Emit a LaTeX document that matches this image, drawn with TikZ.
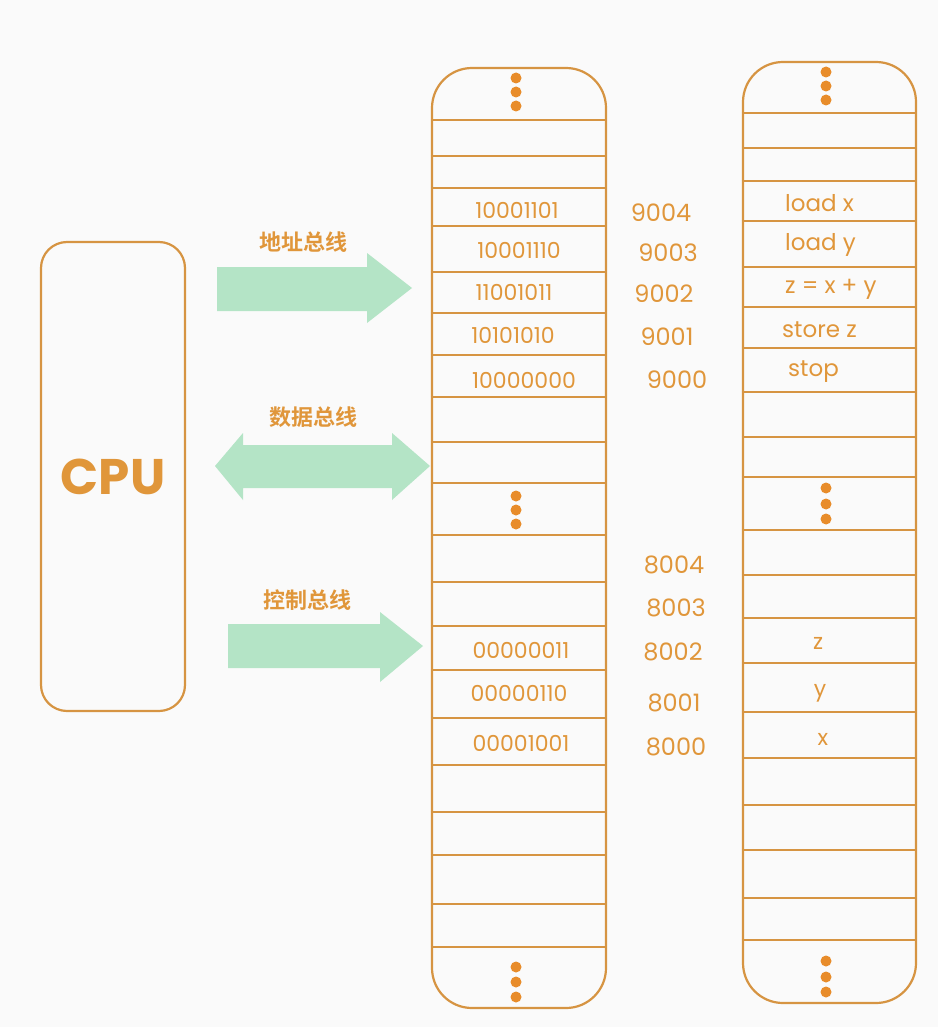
\documentclass[tikz,border=0pt]{standalone}
\usepackage{fontspec}
\setmainfont{Poppins}
\newfontfamily\cjk[BoldFont={Noto Sans CJK SC Bold}]{Noto Sans CJK SC}
\usetikzlibrary{positioning}
\definecolor{lineorange}{RGB}{214,148,66}
\definecolor{txtorange}{RGB}{224,150,58}
\definecolor{dotorange}{RGB}{232,140,42}
\definecolor{busgreen}{RGB}{180,228,198}
\definecolor{paper}{RGB}{250,250,250}

\begin{document}
\begin{tikzpicture}[x=1pt,y=-1pt,
  col/.style={draw=lineorange,line width=2.2pt,rounded corners=40pt,inner sep=0pt},
  sep/.style={draw=lineorange,line width=2pt},
  cell/.style={font=\fontsize{22}{22}\selectfont,text=txtorange,inner sep=0pt},
  addr/.style={font=\fontsize{24}{24}\selectfont,text=txtorange,inner sep=0pt},
  instr/.style={font=\fontsize{23}{23}\selectfont,text=txtorange,inner sep=0pt,anchor=west},
  lbl/.style={font=\cjk\bfseries\fontsize{22}{22}\selectfont,text=txtorange,inner sep=0pt},
  bus/.style={fill=busgreen},
  dot/.style={fill=dotorange}]
  \useasboundingbox (0,0) rectangle (938,1027);
  \fill[paper] (0,0) rectangle (938,1027);

  % CPU
  \node[col,rounded corners=26pt,minimum width=144pt,minimum height=469pt] (cpu) at (113,476.5) {};
  \node[font=\bfseries\fontsize{50}{50}\selectfont,text=txtorange] (cputxt) at (cpu.center) {CPU};

  % memory column
  \node[col,minimum width=174pt,minimum height=940pt] (mem) at (519,538) {};
  \foreach \y in {120,156,188,226,272,313,355,397,442,483,535,582,626,670,718,765,812,855,904,947}
    \draw[sep] (mem.west |- 0,\y) -- (mem.east |- 0,\y);
  \foreach \y in {78,92,106,496,510,524,967,982,997}
    \fill[dot] (516,\y) circle (5.5pt);

  % program column
  \node[col,minimum width=173pt,minimum height=941pt] (prog) at (829.5,532.5) {};
  \foreach \y in {113,148,181,221,267,307,348,392,437,477,530,575,618,663,712,758,805,850,898,940}
    \draw[sep] (prog.west |- 0,\y) -- (prog.east |- 0,\y);
  \foreach \y in {72,86,100,488,504,519,961,977,992}
    \fill[dot] (826,\y) circle (5.5pt);

  % memory contents
  \foreach \x/\y/\v in {517/210/10001101,519/250/10001110,514/292/11001011,513/335/10101010,
    524/380/10000000,521/650/00000011,519/693/00000110,521/743/00001001}
    \node[cell] (c\v) at (\x,\y) {\v};

  % addresses
  \foreach \x/\y/\a in {661/213/9004,668/253/9003,664/294/9002,667/337/9001,677/380/9000,
    674/565/8004,676/608/8003,673/652/8002,674/703/8001,676/747/8000}
    \node[addr] (a\a) at (\x,\y) {\a};

  % instructions and data
  \node[instr] (i1) at (785,203) {load x};
  \node[instr] (i2) at (785,245) {load y};
  \node[instr] (i3) at (785,289) {z = x + y};
  \node[instr] (i4) at (782,330) {store z};
  \node[instr] (i5) at (788,372) {stop};
  \node[cell] (vz) at (818,643) {z};
  \node[cell] (vy) at (820,693) {y};
  \node[cell] (vx) at (823,739) {x};

  % buses
  \fill[bus] (217,267) -- (367,267) -- (367,253) -- (412,288) -- (367,323) -- (367,311) -- (217,311) -- cycle;
  \node[lbl] (abus) at (303,242) {地址总线};
  \fill[bus] (215,466) -- (243,433) -- (243,445) -- (392,445) -- (392,433) -- (430,466)
    -- (392,500) -- (392,488) -- (243,488) -- (243,500) -- cycle;
  \node[lbl] (dbus) at (313,417) {数据总线};
  \fill[bus] (228,624) -- (380,624) -- (380,612) -- (423,646) -- (380,682) -- (380,668) -- (228,668) -- cycle;
  \node[lbl] (cbus) at (307,600) {控制总线};
\end{tikzpicture}
\end{document}
